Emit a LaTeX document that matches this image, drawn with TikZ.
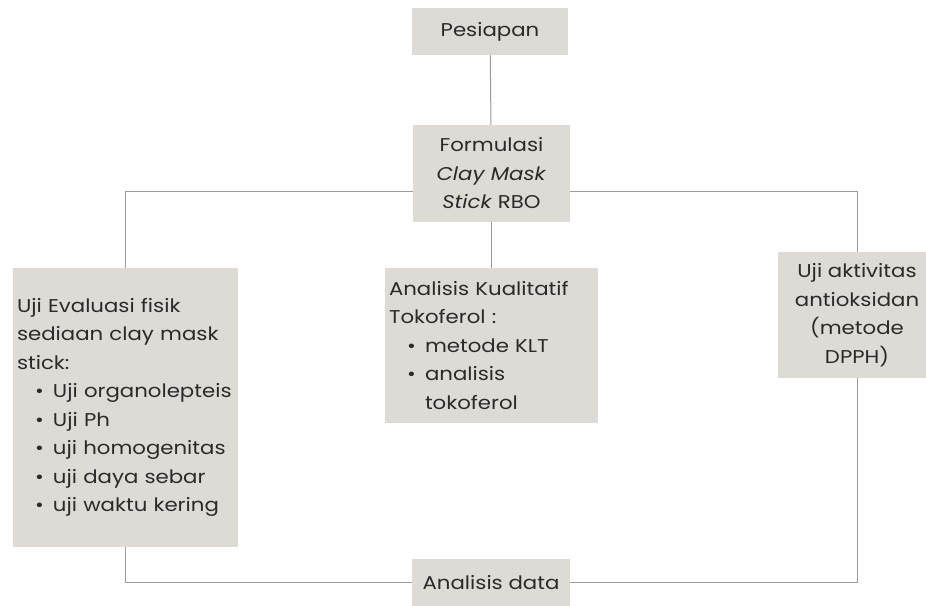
\documentclass[tikz,border=0pt]{standalone}
\usepackage{fontspec}
\setmainfont{Poppins}[FakeStretch=1.15]
\usetikzlibrary{positioning}
\setlength{\parindent}{0pt}
\definecolor{boxgray}{HTML}{DEDBD7}
\definecolor{linegray}{HTML}{9B9B9B}
\definecolor{txtgray}{HTML}{2A2A2A}
\newcommand{\itm}[1]{\par\hspace*{18pt}\makebox[18pt][l]{\textbullet}\parbox[t]{\dimexpr\linewidth-36pt}{#1}}

\begin{document}
\begin{tikzpicture}[x=1pt,y=-1pt,
  box/.style={fill=boxgray,text=txtgray,inner xsep=4pt,inner ysep=0pt,font=\fontsize{18.5}{28.5}\selectfont},
  link/.style={draw=linegray,line width=1pt}]
\useasboundingbox (0,0) rectangle (926,605);
\node[box,minimum width=156pt,minimum height=47pt] (pes) at (490,31.5) {Pesiapan};
\node[box,minimum width=157pt,minimum height=97pt,align=center] (form) at (491.5,173.5) {Formulasi\\\textit{Clay Mask}\\\textit{Stick} RBO};
\node[box,text width=217pt,minimum height=279pt,align=left] (eval) at (125.5,407.5) {Uji Evaluasi fisik\\sediaan clay mask\\stick:
\itm{Uji organolepteis}
\itm{Uji Ph}
\itm{uji homogenitas}
\itm{uji daya sebar}
\itm{uji waktu kering}};
\node[box,text width=205pt,minimum height=155pt,align=left] (kual) at (491.5,345.5) {Analisis Kualitatif\\Tokoferol :
\itm{metode KLT}
\itm{analisis\\tokoferol}};
\node[box,minimum width=158pt,minimum height=126pt,align=center] (uji) at (857,315) {Uji aktivitas\\antioksidan\\(metode\\DPPH)};
\node[box,minimum width=158pt,minimum height=47pt] (data) at (491,582.5) {Analisis data};
\draw[link] (pes) -- (form);
\draw[link] ([yshift=-17.5pt]form.west) -| (eval);
\draw[link] ([yshift=-17.5pt]form.east) -| (uji);
\draw[link] (form) -- (kual);
\draw[link] (eval) |- (data);
\draw[link] (uji) |- (data);
\end{tikzpicture}
\end{document}
